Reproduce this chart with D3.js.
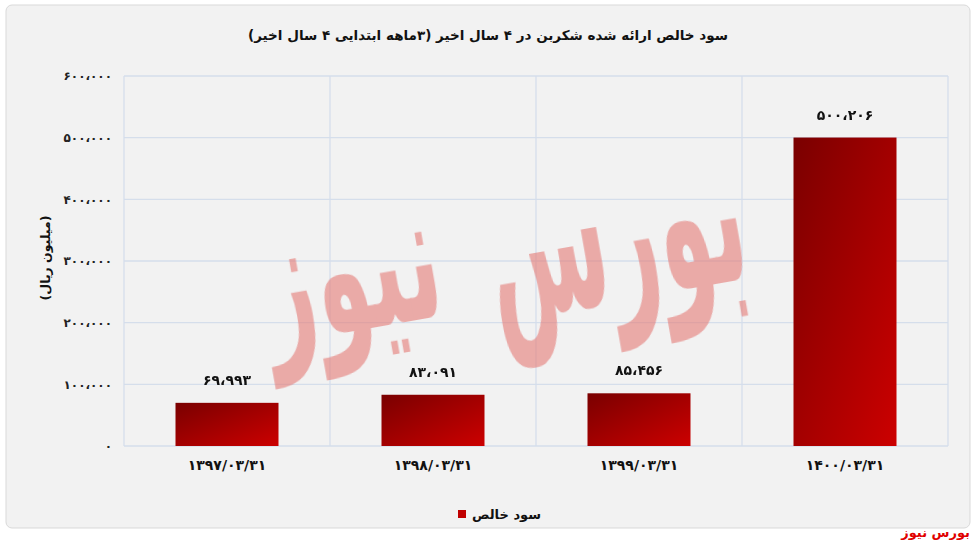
<!DOCTYPE html>
<html><head><meta charset="utf-8">
<script src="https://cdn.jsdelivr.net/npm/d3@7/dist/d3.min.js"></script>
<style>
html,body{margin:0;padding:0;background:#fff;}
svg{display:block;font-family:"DejaVu Sans","Noto Sans",sans-serif;}
</style></head>
<body>
<svg id="c" width="976" height="545"></svg>
<script>
const categories = ["۱۳۹۷/۰۳/۳۱","۱۳۹۸/۰۳/۳۱","۱۳۹۹/۰۳/۳۱","۱۴۰۰/۰۳/۳۱"];
const values = [69993, 83091, 85456, 500206];
const valueLabels = ["۶۹،۹۹۳","۸۳،۰۹۱","۸۵،۴۵۶","۵۰۰،۲۰۶"];
const tickValues = [0,100000,200000,300000,400000,500000,600000];
const tickLabels = ["۰","۱۰۰،۰۰۰","۲۰۰،۰۰۰","۳۰۰،۰۰۰","۴۰۰،۰۰۰","۵۰۰،۰۰۰","۶۰۰،۰۰۰"];
const title = "سود خالص ارائه شده شکربن در ۴ سال اخیر (۳ماهه ابتدایی ۴ سال اخیر)";
const yTitle = "(میلیون ریال)";
const seriesName = "سود خالص";
const source = "بورس نیوز";

(function(){
const svg = d3.select("#c");
svg.append("rect").attr("width",976).attr("height",545).attr("fill","#ffffff");
svg.append("rect").attr("x",6).attr("y",5).attr("width",964).attr("height",523)
  .attr("rx",6).attr("fill","#f2f2f2").attr("stroke","#d9d9d9");

const defs = svg.append("defs");
const g = defs.append("linearGradient").attr("id","bg").attr("x1","0").attr("y1","0").attr("x2","1").attr("y2","1");
g.append("stop").attr("offset","0").attr("stop-color","#7a0000");
g.append("stop").attr("offset","1").attr("stop-color","#cc0000");

const pL=124, pR=948, pT=76, pB=446;
const x = d3.scaleBand().domain(categories).range([pL,pR]).paddingInner(0).paddingOuter(0);
const y = d3.scaleLinear().domain([0,600000]).range([pB,pT]);

// grid
svg.append("g").selectAll("line").data(tickValues.slice(1)).join("line")
  .attr("x1",pL).attr("x2",pR).attr("y1",d=>y(d)).attr("y2",d=>y(d))
  .attr("stroke","#d5deeb").attr("stroke-width",1.3);
const bounds = categories.map(c=>x(c)).concat([pR]);
svg.append("g").selectAll("line").data(bounds).join("line")
  .attr("x1",d=>d).attr("x2",d=>d).attr("y1",pT).attr("y2",pB)
  .attr("stroke","#d5deeb").attr("stroke-width",1.3);
svg.append("line").attr("x1",pL).attr("x2",pR).attr("y1",pB).attr("y2",pB)
  .attr("stroke","#d5deeb").attr("stroke-width",1.3);

// bars
const bw = x.bandwidth()*0.5;
svg.append("g").selectAll("rect").data(values).join("rect")
  .attr("x",(d,i)=>x(categories[i])+x.bandwidth()/2-bw/2)
  .attr("y",d=>y(d)).attr("width",bw).attr("height",d=>pB-y(d))
  .attr("fill","url(#bg)");

// watermark
const wm = svg.append("g").attr("opacity",0.6).attr("fill","#e47a76").attr("font-weight","bold");
wm.append("text").attr("transform","translate(625,300) rotate(-10) scale(0.42,1)").attr("text-anchor","middle")
  .attr("font-size",210).text("بورس");
wm.append("text").attr("transform","translate(360,330) rotate(-10) scale(0.5,1)").attr("text-anchor","middle")
  .attr("font-size",180).text("نیوز");

// value labels
svg.append("g").selectAll("text").data(values).join("text")
  .attr("x",(d,i)=>x(categories[i])+x.bandwidth()/2).attr("y",d=>y(d)-18)
  .attr("text-anchor","middle").attr("font-size",14).attr("font-weight","bold").attr("fill","#111")
  .text((d,i)=>valueLabels[i]);

// y axis
const ya = d3.axisLeft(y).tickValues(tickValues).tickSize(0).tickPadding(12).tickFormat((d,i)=>tickLabels[i]);
const yg = svg.append("g").attr("transform",`translate(${pL},0)`).call(ya);
yg.select(".domain").remove();
yg.selectAll("text").attr("font-size",12).attr("font-weight","bold").attr("fill","#222")
  .attr("font-family","DejaVu Sans");

// x axis
const xa = d3.axisBottom(x).tickSize(0).tickPadding(14);
const xg = svg.append("g").attr("transform",`translate(0,${pB})`).call(xa);
xg.select(".domain").remove();
xg.selectAll("text").attr("font-size",14).attr("font-weight","bold").attr("fill","#111")
  .attr("font-family","DejaVu Sans");

// title
svg.append("text").attr("x",488).attr("y",40).attr("text-anchor","middle").attr("direction","rtl")
  .attr("font-size",13.5).attr("font-weight","bold").attr("fill","#111").text(title);
svg.append("text").attr("transform","translate(50,258) rotate(-90)").attr("text-anchor","middle")
  .attr("direction","rtl").attr("font-size",12.5).attr("font-weight","bold").attr("fill","#111").text(yTitle);

// legend
svg.append("rect").attr("x",458).attr("y",510).attr("width",8).attr("height",8).attr("fill","#c00000");
svg.append("text").attr("x",472).attr("y",519).attr("text-anchor","start").attr("font-size",13)
  .attr("font-weight","bold").attr("fill","#111").text(seriesName);

svg.append("text").attr("x",970).attr("y",537).attr("text-anchor","end").attr("font-size",13)
  .attr("font-weight","bold").attr("fill","#e00000").text(source);
})();
</script>
</body></html>
